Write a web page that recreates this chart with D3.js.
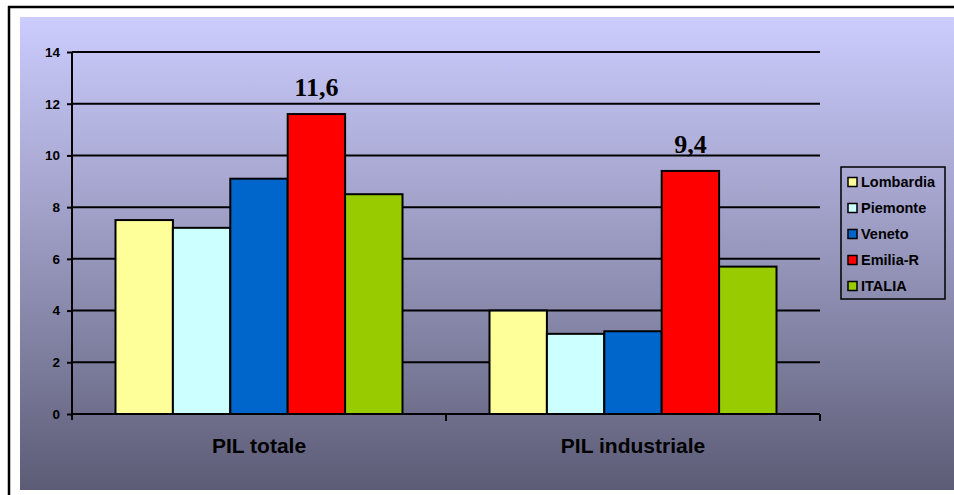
<!DOCTYPE html>
<html><head><meta charset="utf-8">
<script src="https://cdn.jsdelivr.net/npm/d3@7"></script>
<style>html,body{margin:0;padding:0;background:#fff;overflow:hidden;}svg{display:block;}</style>
</head><body>
<script>
const categories = ["PIL totale", "PIL industriale"];
const series = ["Lombardia", "Piemonte", "Veneto", "Emilia-R", "ITALIA"];
const colors = ["#ffff99", "#ccffff", "#0066cc", "#ff0000", "#99cc00"];
const values = [
  [7.5, 4.0],
  [7.2, 3.1],
  [9.1, 3.2],
  [11.6, 9.4],
  [8.5, 5.7]
];
const yTicks = [0, 2, 4, 6, 8, 10, 12, 14];
const highlights = [{cat: "PIL totale", s: "Emilia-R", label: "11,6"}, {cat: "PIL industriale", s: "Emilia-R", label: "9,4"}];

const W = 954, H = 495;
const sans = "Arial, 'Liberation Sans', sans-serif";
const svg = d3.select("body").append("svg").attr("width", W).attr("height", H);
const defs = svg.append("defs");
const grad = defs.append("linearGradient").attr("id", "bg").attr("x1", 0).attr("y1", 0).attr("x2", 0).attr("y2", 1);
grad.append("stop").attr("offset", "0%").attr("stop-color", "#ccccfe");
grad.append("stop").attr("offset", "50%").attr("stop-color", "#9797bd");
grad.append("stop").attr("offset", "100%").attr("stop-color", "#5c5c76");

// outer frame (right and bottom edges fall outside the picture)
svg.append("line").attr("x1", 8).attr("x2", W).attr("y1", 7).attr("y2", 7).attr("stroke", "#000").attr("stroke-width", 2.5);
svg.append("line").attr("x1", 9).attr("x2", 9).attr("y1", 6).attr("y2", H).attr("stroke", "#000").attr("stroke-width", 2.5);
svg.append("rect").attr("x", 20).attr("y", 17).attr("width", W - 20).attr("height", 473).attr("fill", "url(#bg)");

const x0 = d3.scaleBand().domain(categories).range([72, 820]).paddingInner(0).paddingOuter(0);
const x1 = d3.scaleBand().domain(series).range([43.5, x0.bandwidth() - 43.5]).padding(0);
const y = d3.scaleLinear().domain([0, 14]).range([414, 52]);

// gridlines
svg.append("g").selectAll("line").data(yTicks.filter(d => d > 0)).join("line")
  .attr("x1", 72).attr("x2", 820).attr("y1", d => y(d)).attr("y2", d => y(d))
  .attr("stroke", "#000").attr("stroke-width", 2);

// y axis
const yAxis = svg.append("g").attr("transform", "translate(72,0)")
  .call(d3.axisLeft(y).tickValues(yTicks).tickSize(5).tickPadding(7).tickFormat(d3.format("d")));
yAxis.select(".domain").attr("stroke-width", 2).attr("d", "M0,52V420");
yAxis.selectAll(".tick line").attr("stroke-width", 2);
yAxis.selectAll("text").attr("font-family", sans).attr("font-weight", "bold").attr("font-size", 13.5).attr("fill", "#000");

// bars
const g = svg.append("g");
categories.forEach((c, ci) => {
  series.forEach((s, si) => {
    g.append("rect")
      .attr("x", x0(c) + x1(s)).attr("width", x1.bandwidth())
      .attr("y", y(values[si][ci])).attr("height", y(0) - y(values[si][ci]))
      .attr("fill", colors[si]).attr("stroke", "#000").attr("stroke-width", 2);
  });
});

// x axis
const xAxis = svg.append("g").attr("transform", `translate(0,${y(0)})`)
  .call(d3.axisBottom(x0).tickSize(0).tickPadding(24));
xAxis.select(".domain").attr("stroke-width", 2).attr("d", "M72,0H820");
xAxis.selectAll("text").attr("font-family", sans).attr("font-weight", "bold").attr("font-size", 21).attr("fill", "#000");
svg.append("g").selectAll("line").data(categories).join("line")
  .attr("x1", d => x0(d) + x0.bandwidth()).attr("x2", d => x0(d) + x0.bandwidth())
  .attr("y1", y(0)).attr("y2", y(0) + 7).attr("stroke", "#000").attr("stroke-width", 2);

// highlight labels
highlights.forEach(h => {
  const si = series.indexOf(h.s), ci = categories.indexOf(h.cat);
  svg.append("text").attr("x", x0(h.cat) + x1(h.s) + x1.bandwidth() / 2).attr("y", y(values[si][ci]) - 18)
    .attr("text-anchor", "middle").attr("font-family", "'Liberation Serif', 'Times New Roman', serif")
    .attr("font-weight", "bold").attr("font-size", 26).text(h.label);
});

// legend
const lg = svg.append("g");
lg.append("rect").attr("x", 841).attr("y", 167).attr("width", 104).attr("height", 132).attr("fill", "none").attr("stroke", "#000").attr("stroke-width", 1.5);
series.forEach((s, i) => {
  const cy = 182 + i * 26;
  lg.append("rect").attr("x", 848).attr("y", cy - 4.5).attr("width", 9).attr("height", 9).attr("fill", colors[i]).attr("stroke", "#000").attr("stroke-width", 1.5);
  lg.append("text").attr("x", 861).attr("y", cy + 5).attr("font-family", sans).attr("font-weight", "bold").attr("font-size", 14.5).text(s);
});
</script>
</body></html>
